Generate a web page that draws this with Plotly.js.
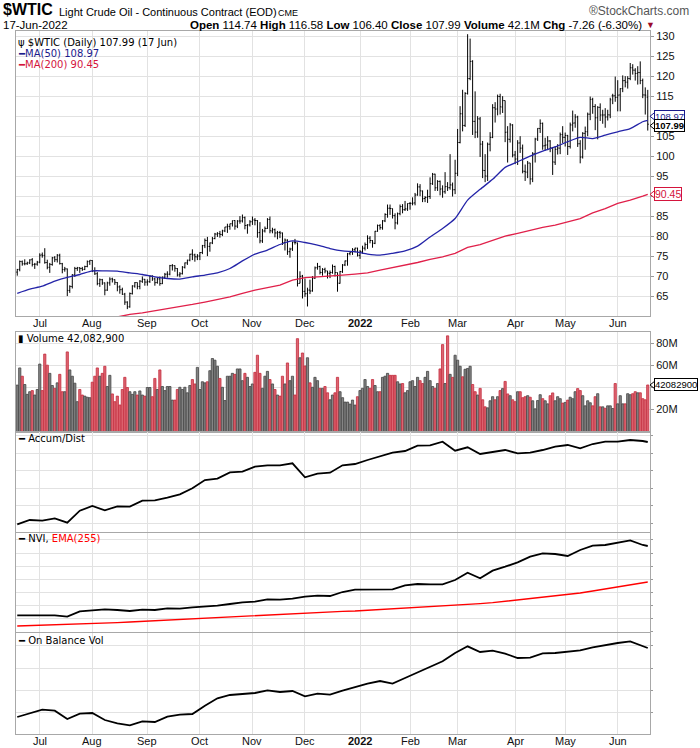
<!DOCTYPE html>
<html><head><meta charset="utf-8">
<script src="https://cdn.plot.ly/plotly-3.0.1.min.js"></script>
<style>html,body{margin:0;padding:0;background:#fff}#chart{width:700px;height:748px}</style>
</head><body><div id="chart"></div>
<script>
// ---------- trading calendar (US exchange holidays excluded) ----------
const holidays = ['2021-07-05','2021-09-06','2021-11-25','2021-12-24','2022-01-17','2022-02-21','2022-04-15','2022-05-30'];
const firstDay = '2021-06-18', lastDay = '2022-06-17';
const monthNames = ['Jan','Feb','Mar','Apr','May','Jun','Jul','Aug','Sep','Oct','Nov','Dec'];

// ---------- daily OHLC ----------
const opens = [
 71.0,71.7,73.6,73.1,73.1,73.3,74.1,72.9,73.0,
 73.5,75.3,75.2,73.4,72.2,72.9,74.6,74.1,75.2,73.1,71.6,71.8,66.4,67.4,70.3,71.9,72.1,71.9,71.7,72.4,73.6,
 73.9,71.3,70.6,68.1,69.1,68.3,66.5,68.3,69.3,69.1,68.4,67.3,66.6,65.5,63.5,62.3,65.6,67.5,68.4,67.4,68.7,69.2,
 68.5,68.6,70.0,69.3,68.4,69.3,68.1,69.7,70.5,70.5,72.6,72.6,71.9,70.3,70.6,72.2,73.3,74.0,75.5,75.3,74.8,
 75.0,75.9,77.6,78.9,77.4,78.3,79.4,80.5,80.6,80.4,81.3,82.3,82.4,83.1,83.9,82.5,83.8,83.8,84.6,82.7,82.8,
 83.6,84.0,83.9,80.9,78.8,81.3,81.9,84.2,81.3,81.6,80.8,80.9,80.8,78.4,79.0,76.1,76.8,78.5,78.3,68.2,70.0,
 66.2,65.6,66.5,66.3,69.5,72.1,72.4,70.9,71.7,71.3,70.7,70.9,72.4,70.9,68.2,71.1,72.8,73.8,75.6,76.0,76.6,77.0,
 75.2,76.1,77.0,77.9,79.5,78.9,78.2,81.2,82.6,82.1,83.8,85.4,87.0,86.9,85.1,83.3,85.6,87.4,86.6,86.8,
 88.2,88.2,88.3,90.3,92.3,91.3,89.4,89.7,89.9,93.1,95.5,92.1,93.7,91.8,91.1,92.4,92.1,92.8,91.6,
 95.7,103.4,110.6,107.7,115.7,119.4,123.7,108.7,106.0,109.3,103.0,96.4,95.0,103.0,104.7,112.1,111.8,114.9,112.3,113.9,106.0,104.2,107.8,
 100.3,99.3,103.3,102.0,96.2,96.0,98.3,94.3,100.6,104.3,106.9,108.2,102.6,102.8,103.8,102.1,98.5,101.7,102.0,105.4,
 104.7,105.2,102.4,107.8,108.3,109.8,103.1,99.8,105.7,106.1,110.5,114.2,112.4,109.6,112.2,110.3,110.3,109.8,110.3,115.1,115.1,
 114.7,115.3,116.9,118.9,118.5,119.4,122.1,121.5,120.7,120.9,118.9,115.3,114.74
];
const highs = [
 71.8,73.9,73.9,74.2,73.6,74.2,74.5,73.3,73.8,
 75.7,75.9,76.98,74.1,73.3,74.8,75.0,75.5,75.6,73.3,72.3,71.9,67.7,70.5,72.3,72.3,72.2,72.3,72.6,73.9,74.0,
 74.0,72.2,71.0,69.4,69.3,68.4,68.6,69.7,69.6,69.2,68.5,67.7,67.1,65.8,63.7,65.9,67.7,68.5,68.4,69.0,69.9,69.3,
 69.2,70.2,70.2,69.6,69.7,69.9,69.9,70.8,71.2,72.8,73.0,72.7,72.0,71.0,72.5,73.4,74.1,75.6,76.7,75.6,75.5,
 76.0,77.8,79.4,79.8,78.4,79.8,80.8,81.0,81.3,81.6,82.3,83.1,83.1,83.9,84.0,84.0,85.0,85.4,84.9,83.0,84.0,
 84.9,84.5,84.0,83.5,81.8,82.4,84.5,84.9,82.1,81.9,81.3,81.3,80.9,79.4,79.2,77.1,78.6,79.3,78.4,71.2,70.3,
 69.4,67.1,69.1,70.0,72.4,73.3,72.6,72.0,72.1,71.3,71.4,72.9,72.6,70.9,71.3,73.0,73.9,75.8,76.3,77.0,77.1,77.1,
 76.5,77.6,78.4,80.2,80.0,79.0,81.3,82.9,83.0,84.0,85.7,87.9,87.9,86.9,85.7,85.9,87.9,88.0,88.8,88.2,
 88.5,89.7,90.8,93.2,93.0,91.4,90.0,91.6,94.7,95.8,95.6,94.0,93.9,92.7,96.0,93.5,100.5,93.4,99.1,
 106.8,112.5,116.6,116.0,130.5,129.4,124.0,116.2,110.0,109.8,103.8,100.5,103.4,106.0,113.0,113.5,115.4,115.6,115.0,113.9,107.5,108.3,108.0,
 101.3,104.0,105.0,102.9,97.9,98.8,98.3,101.0,104.6,107.0,109.2,108.4,104.6,105.0,104.0,102.3,102.5,103.0,105.9,107.5,
 105.9,105.3,108.4,111.4,110.5,110.1,104.0,106.0,107.4,110.9,114.9,114.6,113.0,112.5,113.2,111.6,112.0,111.6,114.6,115.6,119.9,
 119.0,117.0,120.2,120.0,120.0,123.3,123.0,122.0,122.5,123.7,119.4,117.2,116.58
];
const lows = [
 70.1,71.2,72.6,72.7,72.8,73.0,72.4,71.8,72.6,
 73.2,74.6,73.1,71.7,70.8,72.6,73.5,73.4,72.9,70.7,71.1,65.0,65.8,66.9,69.8,71.3,70.8,71.3,71.5,72.2,72.8,
 71.0,70.3,67.7,67.3,67.8,65.2,66.3,67.6,68.4,67.8,66.2,65.6,65.3,62.8,61.74,62.1,65.4,67.1,66.7,66.7,68.3,67.6,
 67.6,68.3,68.8,67.6,68.1,67.6,68.0,69.3,69.6,70.2,71.4,71.1,69.9,69.7,70.4,71.9,72.8,73.7,74.0,73.6,74.0,
 74.0,75.5,77.0,75.0,76.1,78.0,79.2,79.8,79.6,80.0,81.0,80.8,81.6,82.4,81.6,82.0,83.1,83.4,81.7,80.6,82.4,
 82.8,82.7,79.6,78.2,78.3,80.9,81.8,80.7,80.7,79.7,79.2,79.5,77.8,76.4,75.3,74.6,76.3,77.9,67.4,68.2,64.4,
 64.8,62.4,65.5,66.1,69.3,71.6,70.4,70.1,70.7,69.4,69.5,70.6,69.9,66.1,68.1,70.8,72.5,72.6,75.2,75.3,75.9,74.9,
 74.3,75.6,76.4,76.8,78.2,77.1,78.0,81.1,81.6,81.6,83.5,84.6,85.3,84.4,81.7,82.9,85.2,85.7,86.3,86.3,
 86.6,87.7,87.7,90.1,90.0,88.5,88.5,88.3,89.3,92.8,91.3,91.3,90.2,89.6,90.6,91.3,91.6,89.9,90.5,
 95.0,103.2,106.2,107.3,115.4,119.0,105.3,104.5,104.6,99.8,94.5,93.5,93.8,101.2,104.5,108.4,110.2,110.4,110.8,103.5,98.4,103.4,99.7,
 98.0,97.8,100.8,95.7,93.8,94.5,92.9,93.5,98.4,103.8,105.8,101.6,101.4,101.5,101.0,95.3,97.8,100.4,100.5,103.3,
 102.4,100.3,101.9,106.2,107.1,102.3,98.2,99.4,101.6,105.0,109.0,110.6,106.5,104.2,108.8,108.1,107.1,108.9,109.5,113.0,113.6,
 111.2,111.2,116.0,117.2,116.9,119.0,120.4,118.9,117.9,118.0,114.5,110.4,106.40
];
const closes = [
 71.64,73.66,73.06,73.08,73.30,74.05,72.91,72.98,73.47,
 75.23,75.16,73.37,72.20,72.94,74.56,74.10,75.25,73.13,71.65,71.81,66.42,67.42,70.30,71.91,72.07,71.91,71.65,72.39,73.62,73.95,
 71.26,70.56,68.15,69.09,68.28,66.48,68.29,69.25,69.09,68.44,67.29,66.59,65.46,63.50,62.32,65.64,67.54,68.36,67.42,68.74,69.21,68.50,
 68.59,69.99,69.29,68.35,69.30,68.14,69.72,70.45,70.46,72.61,72.61,71.97,70.29,70.56,72.23,73.30,73.98,75.45,75.29,74.83,75.03,
 75.88,77.62,78.93,77.43,78.30,79.35,80.52,80.64,80.44,81.31,82.28,82.44,83.09,83.87,82.50,83.76,83.76,84.65,82.66,82.81,83.57,
 84.05,83.91,80.86,78.81,81.27,81.93,84.15,81.34,81.59,80.79,80.88,80.76,78.36,79.01,76.10,76.75,78.50,78.39,68.15,69.95,66.18,
 65.57,66.50,66.26,69.49,72.05,72.36,70.94,71.67,71.29,70.73,70.87,72.38,70.86,68.23,71.12,72.76,73.79,75.57,75.98,76.56,76.99,75.21,
 76.08,76.99,77.85,79.46,78.90,78.23,81.22,82.64,82.12,83.82,85.43,86.96,86.90,85.14,83.31,85.60,87.35,86.61,86.82,88.15,
 88.20,88.26,90.27,92.31,91.32,89.36,89.66,89.88,93.10,95.46,92.07,93.66,91.76,91.07,92.35,92.10,92.81,91.59,95.72,
 103.41,110.60,107.67,115.68,119.40,123.70,108.70,106.02,109.33,103.01,96.44,95.04,102.98,104.70,112.12,111.76,114.93,112.34,113.90,105.96,104.24,107.82,100.28,
 99.27,103.28,102.00,96.23,96.03,98.26,94.29,100.60,104.25,106.95,108.21,102.56,102.75,103.79,102.07,98.54,101.70,102.02,105.36,104.69,
 105.17,102.41,107.81,108.26,109.77,103.09,99.76,105.71,106.13,110.49,114.20,112.40,109.59,112.21,110.28,110.29,109.77,110.33,114.09,115.07,114.67,
 115.26,116.87,118.87,118.50,119.41,122.11,121.51,120.67,120.93,118.93,115.31,115.25,107.99
];
const prevCloseFirst = 71.04;

// ---------- daily volume, millions ----------
const volumeM = [
 42,57.5,50,42.5,33.6,36,37,33,38,61,37,70,60,52.6,41.6,39,44,51.7,36,36,72,55.7,50,43.7,27,38,33,32,31,30.6,44.6,50,57.5,50,52.6,59,40.7,50.8,34,27,32,24,38,49,39.8,36,33.6,36,33,36.7,33,32,39.8,39.8,31.5,48,38,55.7,40.7,37,40.7,40.7,28.4,28.4,
 38,40,38,40,35,41.6,47,43,58,38,45,44,45,55,66,64.5,59,48,40,28,
 50,50,52.6,51.7,56.6,56.6,46,52.6,49,40.7,43,53.5,69,52.6,39,50,54.4,47,43,38,33,32,50,43,62,46,50,33,
 84,66.7,71,59.3,66.7,44,40,49,46,39,39,40.7,35,28.7,33,35,
 49,36,30.6,26.6,26.6,24.8,28.4,23.9,31.5,37,39,47,40.7,39,47,41.6,36,36,49,50,52.6,50.8,50.8,50.8,45,43,43.4,35,37,45,46,40.7,49,46,43.4,49,54.4,46,40.7,39,43.4,56.6,78.6,43.4,86.5,51.7,49,69,64.5,59,49.5,56.3,57,59,42.5,36,33,39,28.7,22.3,21.4,27.8,31.5,28.7,
 31.5,37,38.8,45.3,34,32.4,28.7,27,36,36,30.6,31.5,32.4,31,27.8,20.5,28,33.3,29.7,27.8,25,32.4,34.9,27.8,31.5,29.7,25.7,26.3,28.4,31,29.7,36,38.8,37,32.4,23.2,27.8,26,23.2,31.5,34.2,22.3,22.3,21,23.2,23.2,20.8,43.4,25,32.4,25,25,34.2,33.3,34.2,36,35,35,29.7,28.7,42.08
];

// ---------- weekly samples (every 5th bar, plus the last bar) ----------
const sampleStep = 5;
const ma50 = [65.7,66.75,67.5,68.75,69.7,70.4,71.3,71.3,71.25,70.8,70.4,69.8,69.4,69.25,69.8,70.25,70.8,71.9,73.8,75.5,76.5,77.9,78.8,78.4,77.75,76.9,76.3,76.1,75.5,75.25,75.7,76.3,77.5,79.8,81.9,84.4,89,91.7,94.2,97.2,98.6,100,101.25,102.3,103.6,104.7,104.4,105.25,106.1,106.9,108.6,108.97];
const ma200 = [55.0,55.6,56.2,56.8,57.4,58.0,58.6,59.2,59.8,60.4,60.8,61.3,61.8,62.3,62.9,63.5,64.2,64.8,65.7,66.5,67.1,67.75,69,69.6,69.8,70.1,70.25,70.5,70.8,71.5,72.1,72.75,73.4,74.2,74.8,75.7,77.2,77.9,79,80,80.7,81.5,82.2,82.75,83.6,84.4,85.8,86.9,88.2,89,90,90.45];
// indicator panels carry no scale on the chart: relative units
const accumDist = [23,36,34,41,28,64,78,65,77,76,94,95,103,113,131,156,160,179,181,196,200,200,206,164,175,178,200,204,216,228,238,243,259,260,271,244,254,234,239,246,236,238,246,256,261,251,264,271,271,276,273,270];
const nvi = [50,50,49,50,46,62,65,68,66,63,67,66,71,70,74,76,79,84,89,91,98,97,100,106,109,108,120,127,127,129,128,140,144,143,143,156,178,161,184,196,209,226,236,234,228,246,259,261,269,275,261,258];
const nviEma = [18,19,20,21,22,24,25,27,28,30,32,33,35,37,39,41,43,45,47,49,51,53,55,57,59,61,62,63,65,67,69,71,73,76,78,80,83,85,88,92,95,99,103,107,111,117,123,129,135,142,148,150];
const obv = [51,63,73,70,45,61,63,42,32,26,38,36,52,58,60,85,107,117,121,123,131,126,129,113,121,118,130,141,151,159,151,168,185,203,218,243,263,246,250,241,228,229,242,243,246,251,260,267,273,278,263,258];

// ---------- geometry ----------
const W = 700, H = 748, ML = 16, MR = 50, MT = 31, MB = 14;
const PW = W - ML - MR, PH = H - MT - MB;
const px = x => (x - ML) / PW;
const py = y => (H - MB - y) / PH;
const dom = (top, bot) => [py(bot), py(top)];

// ---------- build dates ----------
const hol = new Set(holidays);
const dates = [];
for (let d = new Date(firstDay + 'T00:00:00Z'); d <= new Date(lastDay + 'T00:00:00Z'); d.setUTCDate(d.getUTCDate() + 1)) {
  const wd = d.getUTCDay();
  if (wd === 0 || wd === 6) continue;
  const s = d.toISOString().slice(0, 10);
  if (!hol.has(s)) dates.push(s);
}
const N = Math.min(dates.length, opens.length, highs.length, lows.length, closes.length, volumeM.length);
const X = dates.slice(0, N);

// month ticks
const tickvals = [], ticktext = [];
for (let i = 1; i < X.length; i++) {
  if (X[i].slice(5, 7) !== X[i - 1].slice(5, 7)) {
    tickvals.push(X[i]);
    const m = +X[i].slice(5, 7);
    ticktext.push(m === 1 ? '<b>' + X[i].slice(0, 4) + '</b>' : monthNames[m - 1]);
  }
}

// sample x positions
const sIdx = [];
for (let i = 0; i < N; i += sampleStep) sIdx.push(i);
if (sIdx[sIdx.length - 1] !== N - 1) sIdx.push(N - 1);
const sx = arr => sIdx.slice(0, arr.length).map(i => X[i]);

// volume colours
const volFill = [], volLine = [];
for (let i = 0; i < N; i++) {
  const prev = i === 0 ? prevCloseFirst : closes[i - 1];
  const up = closes[i] >= prev;
  volFill.push(up ? '#858585' : '#dd6571');
  volLine.push(up ? '#444444' : '#c42c3e');
}

const FONT = 'Liberation Sans, Arial, sans-serif';
const VFONT = 'DejaVu Sans, Verdana, sans-serif';
const GRID = '#e2e2e2', FRAME = '#a8a8a8';

const traces = [
  {type: 'ohlc', x: X, open: opens.slice(0, N), high: highs.slice(0, N), low: lows.slice(0, N), close: closes.slice(0, N),
   xaxis: 'x', yaxis: 'y', tickwidth: 0.4,
   increasing: {line: {color: '#000', width: 1}}, decreasing: {line: {color: '#000', width: 1}},
   hoverinfo: 'skip', showlegend: false},
  {type: 'scatter', mode: 'lines', x: sx(ma200), y: ma200, xaxis: 'x', yaxis: 'y',
   line: {color: '#e0204a', width: 1.3}, hoverinfo: 'skip', showlegend: false},
  {type: 'scatter', mode: 'lines', x: sx(ma50), y: ma50, xaxis: 'x', yaxis: 'y',
   line: {color: '#2424a8', width: 1.3, shape: 'spline', smoothing: 0.6}, hoverinfo: 'skip', showlegend: false},
  {type: 'bar', x: X, y: volumeM.slice(0, N), xaxis: 'x2', yaxis: 'y2',
   marker: {color: volFill, line: {color: volLine, width: 0.8}}, hoverinfo: 'skip', showlegend: false},
  {type: 'scatter', mode: 'lines', x: sx(accumDist), y: accumDist, xaxis: 'x3', yaxis: 'y3',
   line: {color: '#000', width: 1.8}, hoverinfo: 'skip', showlegend: false},
  {type: 'scatter', mode: 'lines', x: sx(nviEma), y: nviEma, xaxis: 'x4', yaxis: 'y4',
   line: {color: '#ff0000', width: 1.3}, hoverinfo: 'skip', showlegend: false},
  {type: 'scatter', mode: 'lines', x: sx(nvi), y: nvi, xaxis: 'x4', yaxis: 'y4',
   line: {color: '#000', width: 1.8}, hoverinfo: 'skip', showlegend: false},
  {type: 'scatter', mode: 'lines', x: sx(obv), y: obv, xaxis: 'x5', yaxis: 'y5',
   line: {color: '#000', width: 1.8}, hoverinfo: 'skip', showlegend: false}
];

function xax(extra) {
  return Object.assign({
    type: 'category', categoryorder: 'array', categoryarray: X,
    range: [-0.5, N - 0.1], tickmode: 'array', tickvals: tickvals, ticktext: ticktext,
    showgrid: true, gridcolor: GRID, gridwidth: 1, zeroline: false,
    showline: true, mirror: true, linecolor: FRAME, linewidth: 1,
    ticks: '', showticklabels: false, fixedrange: true,
    tickfont: {family: FONT, size: 11, color: '#111'}, rangeslider: {visible: false}
  }, extra);
}
function yax(extra) {
  return Object.assign({
    side: 'right', showgrid: true, gridcolor: GRID, zeroline: false,
    showline: true, mirror: true, linecolor: FRAME, linewidth: 1,
    ticks: 'outside', ticklen: 3, tickcolor: '#999', fixedrange: true,
    tickfont: {family: FONT, size: 11, color: '#111'}
  }, extra);
}

// price tick labels under the value boxes are hidden, as on the chart
const priceTicks = [65,70,75,80,85,90,95,100,105,110,115,120,125,130];
const priceTickText = priceTicks.map(v => (v === 90 || v === 110) ? '' : String(v));
const volTicks = [20, 40, 60, 80];
const volTickText = ['20M', '', '60M', '80M'];

const layout = {
  width: W, height: H,
  margin: {l: ML, r: MR, t: MT, b: MB, pad: 0},
  paper_bgcolor: '#fff', plot_bgcolor: '#fff',
  bargap: 0.12, showlegend: false, dragmode: false,
  xaxis: xax({anchor: 'y'}),
  xaxis2: xax({anchor: 'y2', matches: 'x'}),
  xaxis3: xax({anchor: 'y3', matches: 'x'}),
  xaxis4: xax({anchor: 'y4', matches: 'x'}),
  xaxis5: xax({anchor: 'y5', matches: 'x'}),
  yaxis: yax({anchor: 'x', domain: dom(31, 316), range: [60.02, 131.3], tickmode: 'array', tickvals: priceTicks, ticktext: priceTickText}),
  yaxis2: yax({anchor: 'x2', domain: dom(332, 431.5), range: [0, 90], tickmode: 'array', tickvals: volTicks, ticktext: volTickText}),
  yaxis3: yax({anchor: 'x3', domain: dom(432, 532), range: [0, 300], tick0: 26, dtick: 52.5, showticklabels: false, ticklen: 2}),
  yaxis4: yax({anchor: 'x4', domain: dom(533, 632), range: [0, 297], tick0: 41, dtick: 39.2, showticklabels: false, ticklen: 2}),
  yaxis5: yax({anchor: 'x5', domain: dom(633, 734), range: [0, 303], tick0: 64, dtick: 67, showticklabels: false, ticklen: 2}),
  annotations: [],
  shapes: []
};

function note(x, y, text, opt) {
  layout.annotations.push(Object.assign({
    xref: 'paper', yref: 'paper', x: px(x), y: py(y), text: text, showarrow: false,
    xanchor: 'left', yanchor: 'middle', borderpad: 0, font: {family: VFONT, size: 10, color: '#000'}
  }, opt || {}));
}

// month labels under the price panel and under the bottom panel
[323, 741].forEach(yy => {
  tickvals.forEach((tv, k) => {
    layout.annotations.push({
      xref: 'x', yref: 'paper', x: tv, y: py(yy), text: ticktext[k], showarrow: false, borderpad: 0,
      xanchor: 'center', yanchor: 'middle', font: {family: FONT, size: 11, color: '#111'}
    });
  });
});

// header
note(2, 10, '<b>$WTIC</b>', {font: {family: FONT, size: 16, color: '#000'}});
note(58, 12, 'Light Crude Oil - Continuous Contract (EOD)', {font: {family: FONT, size: 11, color: '#000'}});
note(277, 13, 'CME', {font: {family: FONT, size: 9, color: '#000'}});
note(690, 11, '®StockCharts.com', {xanchor: 'right', font: {family: FONT, size: 12, color: '#555'}});
note(2, 25.5, '17-Jun-2022', {font: {family: FONT, size: 11.5, color: '#000'}});
note(643, 25.5, '<b>Open</b> 114.74 <b>High</b> 116.58 <b>Low</b> 106.40 <b>Close</b> 107.99 <b>Volume</b> 42.1M <b>Chg</b> -7.26 (-6.30%)',
     {xanchor: 'right', font: {family: FONT, size: 11.5, color: '#000'}});
note(645, 25.5, '▼', {font: {family: FONT, size: 9, color: '#9b0a2a'}});

// panel legends
note(17, 42, 'ψ $WTIC (Daily) 107.99 (17 Jun)');
note(17, 54, '<span style="color:#1a1a8c">━MA(50) 108.97</span>');
note(17, 65, '<span style="color:#d4143c">━MA(200) 90.45</span>');
note(17, 338, '▮ Volume 42,082,900');
note(17, 438, '━ Accum/Dist');
note(17, 538, '━ NVI, <span style="color:#ff0000">EMA(255)</span>');
note(17, 640, '━ On Balance Vol');

// value boxes on the right with a small pointer
function box(yref, y, text, color, shift, unitsPerPx, size) {
  layout.annotations.push({
    xref: 'paper', yref: yref, x: px(654), y: y, yshift: shift || 0, text: text, showarrow: false,
    xanchor: 'left', yanchor: 'middle', bgcolor: '#fff', bordercolor: color, borderwidth: 1, borderpad: 0,
    font: {family: FONT, size: size, color: color}
  });
  const yc = y + (shift || 0) * unitsPerPx, d = 4 * unitsPerPx;
  layout.shapes.push({
    type: 'path', xref: 'paper', yref: yref, layer: 'above',
    path: 'M ' + px(655) + ',' + (yc + d) + ' L ' + px(650) + ',' + yc + ' L ' + px(655) + ',' + (yc - d) + ' Z',
    fillcolor: '#fff', line: {color: color, width: 1}
  });
}
box('y', ma50[ma50.length - 1], '108.97', '#1a1a8c', 4, 0.25, 9.5);
box('y', closes[N - 1], '<b>107.99</b>', '#000', -1.5, 0.25, 9.5);
box('y', ma200[ma200.length - 1], '90.45', '#d4143c', 0, 0.25, 10.5);
box('y2', volumeM[N - 1], '42082900', '#000', 0, 0.9, 9.5);

Plotly.newPlot('chart', traces, layout, {staticPlot: true, displayModeBar: false});
</script>
</body></html>
